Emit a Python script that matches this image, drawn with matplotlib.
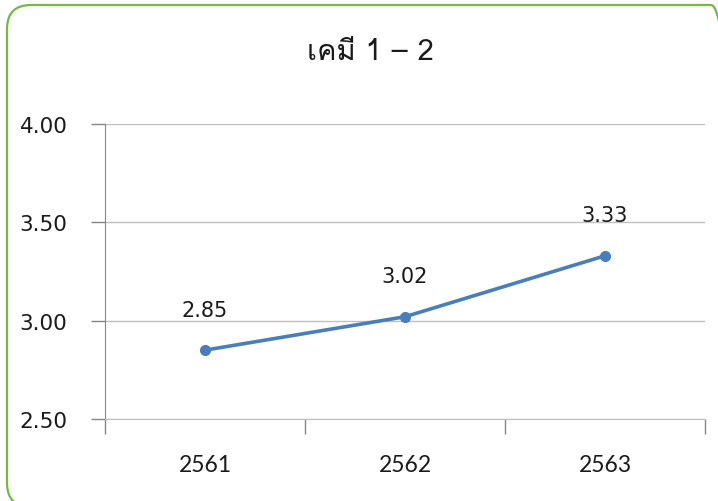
import matplotlib
matplotlib.use("Agg")
import matplotlib.pyplot as plt
from matplotlib import font_manager
from matplotlib.ft2font import FT2Font
from matplotlib.patches import FancyBboxPatch
from matplotlib.transforms import IdentityTransform

# data
years = ["2561", "2562", "2563"]
scores = [2.85, 3.02, 3.33]
title = "เคมี 1 – 2"
y_ticks = [2.50, 3.00, 3.50, 4.00]


# find an installed font that has Thai glyphs for the title
def thai_font():
    for f in font_manager.fontManager.ttflist:
        try:
            if ord("ค") in FT2Font(f.fname).get_charmap():
                return f.name
        except Exception:
            pass
    return "DejaVu Sans"


thai = thai_font()

fig = plt.figure(figsize=(7.18, 5.02), dpi=100)
ax = fig.add_axes([105 / 718, 1 - 420 / 502, 600 / 718, 295 / 502])

x = range(len(years))
ax.plot(x, scores, color="#4a7ebb", lw=2.6, marker="o", ms=7, zorder=3)
for xi, v in zip(x, scores):
    ax.annotate(f"{v:.2f}", (xi, v), xytext=(0, 29), textcoords="offset points",
                ha="center", va="center", fontsize=15, color="#1a1a1a")

ax.set_xlim(-0.5, len(years) - 0.5)
ax.set_ylim(2.5, 4.0)
ax.set_yticks(y_ticks)
ax.set_yticklabels([f"{t:.2f}" for t in y_ticks], fontsize=15.5, color="#1a1a1a")
ax.yaxis.grid(True, color="#c0c0c0", lw=1)
ax.set_axisbelow(True)

# categories between tick marks, like a spreadsheet chart
ax.set_xticks([i - 0.5 for i in range(len(years) + 1)])
ax.set_xticklabels([])
ax.set_xticks(list(x), minor=True)
ax.set_xticklabels(years, minor=True, fontsize=16.5, family="Lato", color="#1a1a1a")
ax.tick_params(axis="x", which="major", length=11, color="#868686", width=1)
ax.tick_params(axis="x", which="minor", length=0, pad=25)
ax.tick_params(axis="y", length=10, color="#868686", width=1, pad=17)

for s in ["top", "right"]:
    ax.spines[s].set_visible(False)
ax.spines["left"].set_color("#868686")
ax.spines["bottom"].set_color("#c0c0c0")

fig.text(370 / 718, 1 - 52 / 502, title, ha="center", va="center",
         fontsize=21, family=[thai, "DejaVu Sans"], color="#1a1a1a")

# rounded green border of the chart area
border = FancyBboxPatch((7, -6), 728, 502, boxstyle="round,pad=0,rounding_size=24",
                        transform=IdentityTransform(), fill=False,
                        edgecolor="#77b843", lw=1.6)
fig.patches.append(border)

fig.savefig("out.png", dpi=100)
